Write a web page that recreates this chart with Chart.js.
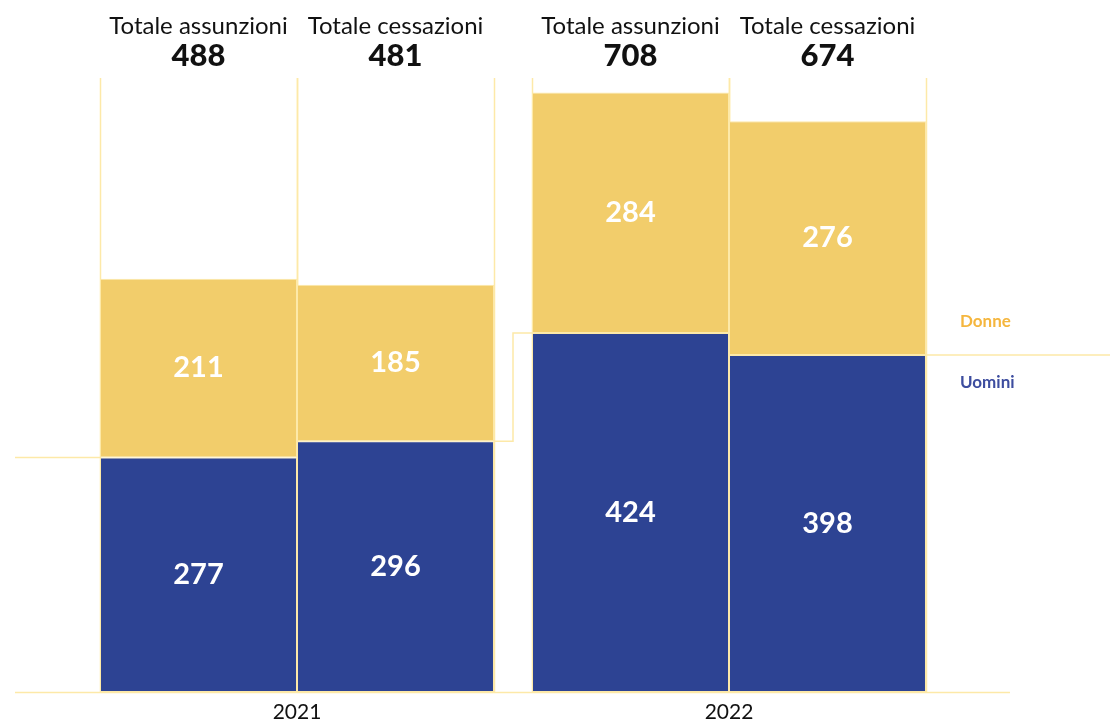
<!DOCTYPE html>
<html>
<head>
<meta charset="utf-8">
<script src="https://cdn.jsdelivr.net/npm/chart.js@4"></script>
<style>
  body { margin: 0; background: #fff; }
  #wrap { width: 1110px; height: 723px; position: relative; }
</style>
</head>
<body>
<div id="wrap"><canvas id="chart"></canvas></div>
<script>
// Data
const years = ["2021", "2022"];
const stackLabels = ["Totale assunzioni", "Totale cessazioni"];
const uominiAssunzioni = [277, 424];
const donneAssunzioni = [211, 284];
const uominiCessazioni = [296, 398];
const donneCessazioni = [185, 276];
const totaliAssunzioni = [488, 708];
const totaliCessazioni = [481, 674];

const BLUE = "#2d4393";
const YELLOW = "#f2cd6b";
const PALE = "#fde9a8";
const FONT = "Lato, 'Noto Sans', sans-serif";

// Light guide lines behind bars: verticals at bar edges, step line on Uomini tops, baseline
const guides = {
    id: "guides",
    beforeDatasetsDraw(chart) {
        const ctx = chart.ctx;
        const area = chart.chartArea;
        const y = chart.scales.y;
        const uA = chart.getDatasetMeta(0).data;
        const uC = chart.getDatasetMeta(2).data;
        ctx.save();
        ctx.strokeStyle = PALE;
        ctx.lineWidth = 1.5;
        // vertical lines
        [uA, uC].forEach(bars => bars.forEach(b => {
            [b.x - b.width / 2, b.x + b.width / 2].forEach(px => {
                ctx.beginPath();
                ctx.moveTo(Math.round(px) + 0.5, area.top);
                ctx.lineTo(Math.round(px) + 0.5, area.bottom);
                ctx.stroke();
            });
        }));
        // step line on the men's values
        const left0 = uA[0].x - uA[0].width / 2;
        const right0 = uC[0].x + uC[0].width / 2;
        const left1 = uA[1].x - uA[1].width / 2;
        const right1 = uC[1].x + uC[1].width / 2;
        const mid = (right0 + left1) / 2;
        ctx.beginPath();
        ctx.moveTo(15, y.getPixelForValue(uominiAssunzioni[0]));
        ctx.lineTo(left0, y.getPixelForValue(uominiAssunzioni[0]));
        ctx.moveTo(right0, y.getPixelForValue(uominiCessazioni[0]));
        ctx.lineTo(mid, y.getPixelForValue(uominiCessazioni[0]));
        ctx.lineTo(mid, y.getPixelForValue(uominiAssunzioni[1]));
        ctx.lineTo(left1, y.getPixelForValue(uominiAssunzioni[1]));
        ctx.moveTo(right1, y.getPixelForValue(uominiCessazioni[1]));
        ctx.lineTo(chart.width, y.getPixelForValue(uominiCessazioni[1]));
        ctx.stroke();
        // baseline
        ctx.beginPath();
        ctx.moveTo(15, area.bottom + 0.5);
        ctx.lineTo(right1 + 84, area.bottom + 0.5);
        ctx.stroke();
        ctx.restore();
    }
};

// Value labels inside bars, totals on top, legend at right
const labels = {
    id: "labels",
    afterDatasetsDraw(chart) {
        const ctx = chart.ctx;
        const area = chart.chartArea;
        const y = chart.scales.y;
        ctx.save();
        ctx.textAlign = "center";
        ctx.textBaseline = "middle";
        ctx.fillStyle = "#fff";
        ctx.font = "bold 29px " + FONT;
        chart.data.datasets.forEach((ds, i) => {
            chart.getDatasetMeta(i).data.forEach((b, j) => {
                ctx.fillText(ds.data[j], b.x, (b.y + b.base) / 2);
            });
        });
        // totals above each stack
        const tops = [totaliAssunzioni, totaliCessazioni];
        [0, 2].forEach((di, k) => {
            chart.getDatasetMeta(di).data.forEach((b, j) => {
                ctx.fillStyle = "#111";
                ctx.font = "24px " + FONT;
                ctx.fillText(stackLabels[k], b.x, area.top - 52);
                ctx.font = "900 31px " + FONT;
                ctx.fillText(tops[k][j], b.x, area.top - 22);
            });
        });
        // legend labels
        const uC = chart.getDatasetMeta(2).data[1];
        const lx = uC.x + uC.width / 2 + 34;
        const ly = y.getPixelForValue(uominiCessazioni[1]);
        ctx.textAlign = "left";
        ctx.font = "bold 17px " + FONT;
        ctx.fillStyle = "#f5b63e";
        ctx.fillText("Donne", lx, ly - 33);
        ctx.fillStyle = "#3d4d9f";
        ctx.fillText("Uomini", lx, ly + 28);
        ctx.restore();
    }
};

function barSet(label, data, color, stack) {
    return {
        label: label,
        data: data,
        backgroundColor: color,
        borderColor: PALE,
        borderWidth: 1,
        borderSkipped: false,
        stack: stack,
        categoryPercentage: 0.912,
        barPercentage: 1
    };
}

new Chart(document.getElementById("chart"), {
    type: "bar",
    data: {
        labels: years,
        datasets: [
            barSet("Uomini", uominiAssunzioni, BLUE, "assunzioni"),
            barSet("Donne", donneAssunzioni, YELLOW, "assunzioni"),
            barSet("Uomini", uominiCessazioni, BLUE, "cessazioni"),
            barSet("Donne", donneCessazioni, YELLOW, "cessazioni")
        ]
    },
    options: {
        responsive: true,
        maintainAspectRatio: false,
        animation: false,
        layout: { padding: { left: 81, right: 165, top: 78, bottom: 0 } },
        plugins: {
            legend: { display: false },
            tooltip: { enabled: false }
        },
        scales: {
            x: {
                stacked: true,
                grid: { display: false },
                border: { display: false },
                afterFit: (scale) => { scale.height = 31; },
                ticks: {
                    color: "#111",
                    padding: 0,
                    font: { family: FONT, size: 21, lineHeight: 1.15 }
                }
            },
            y: {
                stacked: true,
                display: false,
                min: 0,
                max: 725
            }
        }
    },
    plugins: [guides, labels]
});
</script>
</body>
</html>
